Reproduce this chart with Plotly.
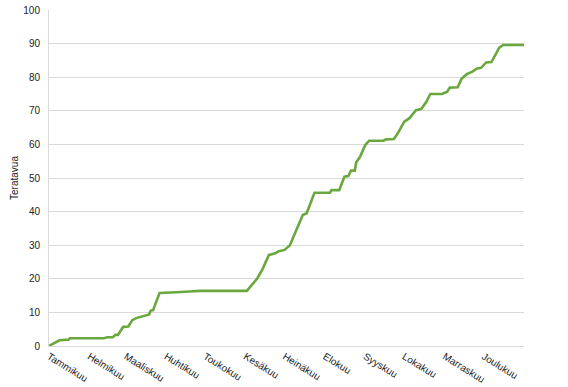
import plotly.graph_objects as go

# Day of year (0 = 1 January) and cumulative energy (TWh)
days = [0, 8, 15, 16, 42, 45, 49, 51, 53, 57, 61, 64, 67, 70, 75, 77, 78, 80, 85,
        93, 98, 108, 116, 152, 160, 164, 169, 174, 176, 181, 185, 195, 198, 204,
        216, 217, 223, 227, 230, 232, 235, 236, 239, 243, 246, 257, 259, 265,
        268, 273, 277, 282, 286, 290, 293, 302, 306, 308, 314, 317, 321, 325,
        329, 332, 336, 340, 346, 349, 365]
values = [0, 1.7, 1.9, 2.3, 2.3, 2.6, 2.6, 3.3, 3.3, 5.7, 5.8, 7.7, 8.3, 8.6, 9.0,
          9.4, 10.5, 10.7, 15.8, 15.8, 16.0, 16.2, 16.4, 16.4, 20.1, 22.8, 27.1,
          27.6, 28.1, 28.6, 29.9, 39.0, 39.5, 45.6, 45.6, 46.4, 46.4, 50.4, 50.6,
          52.2, 52.2, 54.6, 56.3, 59.8, 61.1, 61.1, 61.5, 61.6, 63.3, 66.8, 67.8,
          70.2, 70.5, 72.7, 75.0, 75.0, 75.7, 76.9, 77.0, 79.5, 80.9, 81.6, 82.6,
          82.8, 84.4, 84.5, 88.8, 89.6, 89.6]

month_start_days = [0, 31, 59, 90, 120, 151, 181, 212, 243, 273, 304, 334]
month_labels = ["Tammikuu", "Helmikuu", "Maaliskuu", "Huhtikuu", "Toukokuu",
                "Kesäkuu", "Heinäkuu", "Elokuu", "Syyskuu", "Lokakuu",
                "Marraskuu", "Joulukuu"]
y_ticks = [0, 10, 20, 30, 40, 50, 60, 70, 80, 90, 100]
y_title = "Teratavua"

fig = go.Figure()
fig.add_trace(go.Scatter(
    x=days, y=values, mode="lines",
    line=dict(color="#6aa83e", width=2.6),
    hoverinfo="skip", showlegend=False,
))

font_family = "Liberation Sans, Arial, sans-serif"
fig.update_layout(
    width=568, height=387,
    margin=dict(l=49, r=44, t=10, b=41, autoexpand=False),
    paper_bgcolor="white", plot_bgcolor="white",
    font=dict(family=font_family, size=10, color="#222222"),
    xaxis=dict(
        range=[0, 365],
        tickmode="array", tickvals=month_start_days, ticktext=month_labels,
        tickangle=32,
        showgrid=False, zeroline=False,
        showline=True, linecolor="#d9d9d9", linewidth=1,
        ticks="", tickfont=dict(size=10, color="#222222"),
        automargin=False,
        fixedrange=True,
    ),
    yaxis=dict(
        range=[0, 100],
        tickmode="array", tickvals=y_ticks,
        showgrid=True, gridcolor="#d9d9d9", gridwidth=1,
        zeroline=False,
        showline=True, linecolor="#d9d9d9", linewidth=1,
        ticks="", ticklabelstandoff=6,
        tickfont=dict(size=10, color="#222222"),
        title=dict(text=y_title, font=dict(size=10, color="#222222"), standoff=2),
        automargin=False,
        fixedrange=True,
    ),
)

fig.write_html(
    "out.html",
    config={"displayModeBar": False},
    post_script="document.body.style.margin='0';document.body.style.overflow='hidden';",
)
